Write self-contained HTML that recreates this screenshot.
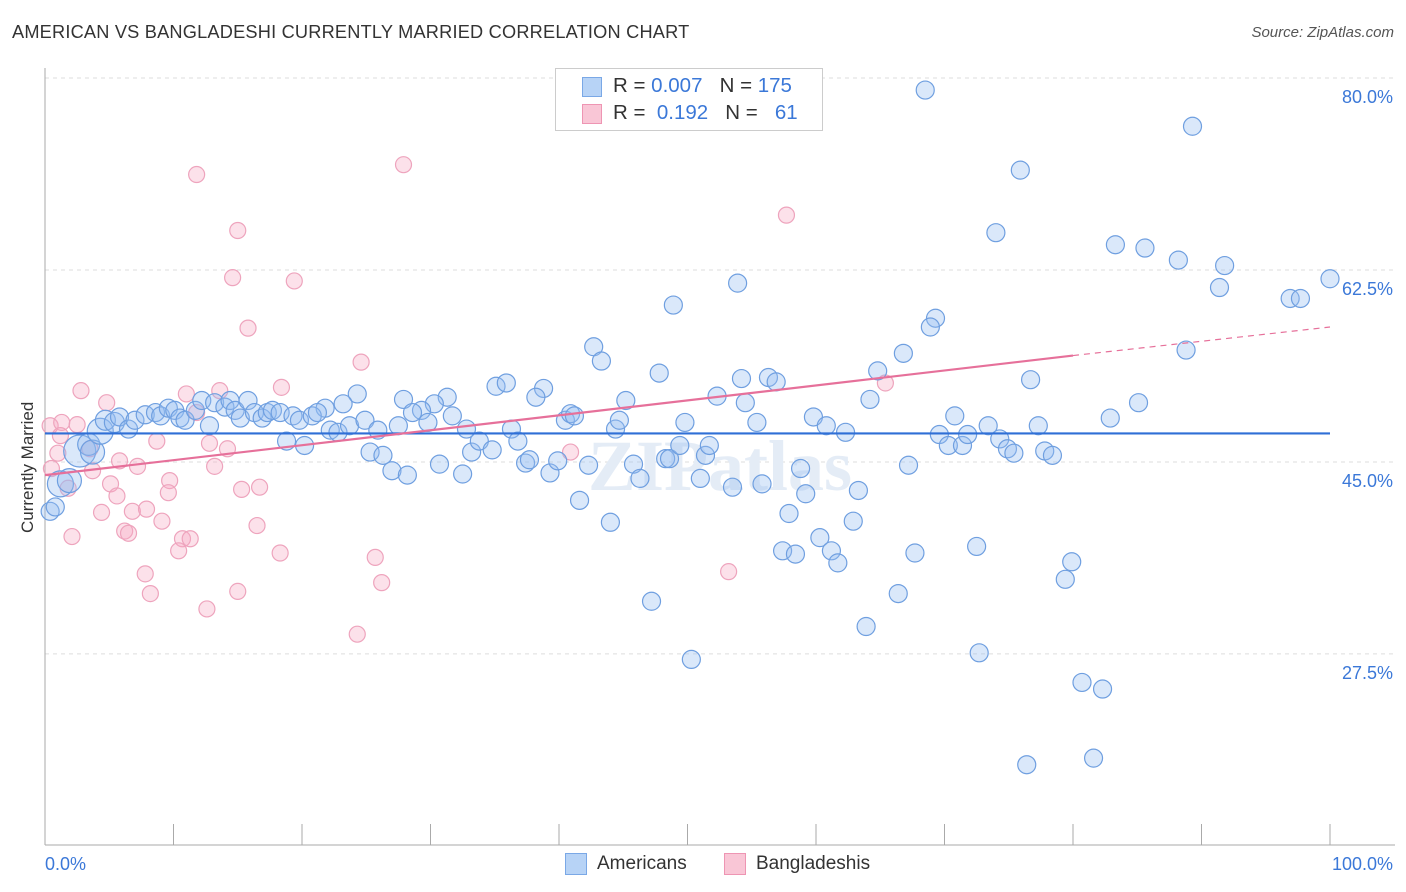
<!DOCTYPE html>
<html><head><meta charset="utf-8"><style>
body{margin:0;background:#fff;font-family:"Liberation Sans",sans-serif;}
#wrap{position:relative;width:1406px;height:892px;overflow:hidden;}
.t{position:absolute;white-space:nowrap;}
</style></head><body>
<div id="wrap">
<div class="t" style="left:12px;top:22px;font-size:18.2px;color:#333;letter-spacing:0.2px">AMERICAN VS BANGLADESHI CURRENTLY MARRIED CORRELATION CHART</div>
<div class="t" style="right:12px;top:24px;font-size:15px;color:#555;font-style:italic">Source: ZipAtlas.com</div>
<div class="t" style="left:18px;top:533px;font-size:17px;color:#333;transform:rotate(-90deg);transform-origin:0 0;">Currently Married</div>
<svg id="svg" width="1406" height="892" style="position:absolute;left:0;top:0"></svg>
<div class="t" style="left:555px;top:68px;width:266px;height:61px;border:1px solid #ccc;background:#fff">
 <div style="position:absolute;left:26px;top:8px;width:18px;height:18px;background:#b7d3f6;border:1px solid #7aa8e6"></div>
 <div style="position:absolute;left:26px;top:35px;width:18px;height:18px;background:#f9c6d6;border:1px solid #ee95b3"></div>
 <div class="t" style="left:57px;top:5px;font-size:20.5px;color:#333">R = <span style="color:#3b78d8">0.007</span>&nbsp;&nbsp;&nbsp;N = <span style="color:#3b78d8">175</span></div>
 <div class="t" style="left:57px;top:32px;font-size:20.5px;color:#333">R = &nbsp;<span style="color:#3b78d8">0.192</span>&nbsp;&nbsp;&nbsp;N = &nbsp;&nbsp;<span style="color:#3b78d8">61</span></div>
</div>
<div class="t" style="left:565px;top:853px;width:20px;height:20px;background:#b7d3f6;border:1px solid #7aa8e6"></div>
<div class="t" style="left:597px;top:853px;font-size:19px;color:#333">Americans</div>
<div class="t" style="left:724px;top:853px;width:20px;height:20px;background:#f9c6d6;border:1px solid #ee95b3"></div>
<div class="t" style="left:756px;top:853px;font-size:19px;color:#333">Bangladeshis</div>
</div>
<script>
const yTicks=[80,62.5,45,27.5];
const yTickLabels=["80.0%","62.5%","45.0%","27.5%"];
const xLabels=["0.0%","100.0%"];
const blueX=[68.5,89.3,75.9,74.0,83.3,85.6,88.2,91.8,91.4,100,96.9,97.7,53.9,48.9,69.3,68.9,42.7,43.3,66.8,88.8,47.8,64.8,76.7,54.2,56.3,56.9,35.1,35.9,38.8,38.2,24.3,27.9,31.3,52.3,64.2,54.5,85.1,23.2,21.8,30.3,29.3,28.6,45.2,
0.4,0.8,1.2,1.9,2.7,3.4,3.7,4.3,4.7,5.4,5.8,6.5,7.0,7.8,8.6,9.0,9.6,10.1,10.5,10.9,11.7,12.2,12.8,13.2,14.0,14.4,14.8,15.2,15.8,16.3,16.9,17.3,17.7,18.3,18.8,19.3,19.8,20.2,20.8,21.2,22.2,22.8,23.7,24.9,25.3,25.9,26.3,27.0,27.5,28.2,29.8,30.7,31.7,32.5,32.8,33.2,33.8,34.8,36.3,36.8,37.4,37.7,39.3,39.9,40.5,40.9,41.2,41.6,42.3,44.0,44.4,44.7,45.8,46.3,47.2,48.3,48.6,49.4,49.8,50.3,51.0,51.4,51.7,53.5,55.4,55.8,57.4,57.9,58.4,58.8,59.2,59.8,60.3,60.8,61.2,61.7,62.3,62.9,63.3,63.9,66.4,67.2,67.7,69.6,70.3,70.8,71.4,71.8,72.5,72.7,73.4,74.3,74.9,75.4,76.4,77.3,77.8,78.4,79.4,79.9,80.7,81.6,82.3,82.9,84.8,86.8,93.8,1.5,3.0];
const blueY=[78.9,75.6,71.6,65.9,64.8,64.5,63.4,62.9,60.9,61.7,59.9,59.9,61.3,59.3,58.1,57.3,55.5,54.2,54.9,55.2,53.1,53.3,52.5,52.6,52.7,52.3,51.9,52.2,51.7,50.9,51.2,50.7,50.9,51.0,50.7,50.4,50.4,50.3,49.9,50.3,49.7,49.5,50.6,
40.5,40.9,43.0,43.3,46.0,46.6,45.9,47.8,48.8,48.6,49.1,48.0,48.8,49.3,49.5,49.2,49.9,49.7,49.0,48.8,49.7,50.6,48.3,50.4,50.0,50.6,49.7,49.0,50.6,49.5,49.0,49.5,49.7,49.5,46.9,49.2,48.8,46.5,49.2,49.5,47.9,47.7,48.3,48.8,45.9,47.9,45.6,44.2,48.3,43.8,48.6,44.8,49.2,43.9,48.0,45.9,46.9,46.1,48.0,46.9,44.9,45.2,44.0,45.1,48.8,49.4,49.2,41.5,44.7,39.5,48.0,48.8,44.8,43.5,32.3,45.3,45.3,46.5,48.6,27.0,43.5,45.6,46.5,42.7,48.6,43.0,36.9,40.3,36.6,44.4,42.1,49.1,38.1,48.3,36.9,35.8,47.7,39.6,42.4,30.0,33.0,44.7,36.7,47.5,46.5,49.2,46.5,47.5,37.3,27.6,48.3,47.1,46.2,45.8,17.4,48.3,46.0,45.6,34.3,35.9,24.9,18.0,24.3,49.0,25.7,36.0,43.7,41.5,46.0];
const blueR=[9,9,9,9,9,9,9,9,9,9,9,9,9,9,9,9,9,9,9,9,9,9,9,9,9,9,9,9,9,9,9,9,9,9,9,9,9,9,9,9,9,9,9,
9,9,13,12,16,11,12,13,10,10,9,9,9,9,9,9,9,9,9,9,9,9,9,9,9,9,9,9,9,9,9,9,9,9,9,9,9,9,9,9,9,9,9,9,9,9,9,9,9,9,9,9,9,9,9,9,9,9,9,9,9,9,9,9,9,9,9,9,9,9,9,9,9,9,9,9,9,9,9,9,9,9,9,9,9,9,9,9,9,9,9,9,9,9,9,9,9,9,9,9,9,9,9,9,9,9,9,9,9,9,9,9,9,9,9,9,9,9,9,9,9,9,9,9];
const pinkX=[11.8,27.9,57.7,15.0,14.6,19.4,15.8,24.6,2.8,11.0,13.6,4.8,18.4,65.4,0.4,1.3,2.5,1.2,11.8,3.5,1.0,8.7,12.8,14.2,0.5,5.8,7.2,3.7,13.2,5.1,5.6,1.8,9.7,9.6,15.3,16.7,4.4,6.8,7.9,2.1,6.2,9.1,16.5,10.7,11.3,10.4,18.3,25.7,7.8,26.2,15.0,8.2,12.6,24.3,53.2,40.9,6.5];
const pinkY=[71.2,72.1,67.5,66.1,61.8,61.5,57.2,54.1,51.5,51.2,51.5,50.4,51.8,52.2,48.3,48.6,48.4,47.4,49.5,46.2,45.8,46.9,46.7,46.2,44.4,45.1,44.6,44.2,44.6,43.0,41.9,42.6,43.3,42.2,42.5,42.7,40.4,40.5,40.7,38.2,38.7,39.6,39.2,38.0,38.0,36.9,36.7,36.3,34.8,34.0,33.2,33.0,31.6,29.3,35.0,45.9,38.5];
const blueTrend=[47.6,47.6];
const pinkTrend=[43.8,54.7,57.3];
const trendX=[0,80,100];

const svg=document.getElementById('svg');
const NS='http://www.w3.org/2000/svg';
const X0=45,X1=1330,Y80=78,PX=10.97;
function xS(v){return X0+(X1-X0)*v/100;}
function yS(v){return Y80+(80-v)*PX;}
function mk(tag,attrs){const e=document.createElementNS(NS,tag);for(const k in attrs)e.setAttribute(k,attrs[k]);svg.appendChild(e);return e;}

yTicks.forEach((t,i)=>{
 const g=mk('line',{x1:45,x2:1395,y1:yS(t),y2:yS(t),stroke:'#ddd','stroke-dasharray':'4,4'});
 
 
 const tx=mk('text',{x:1393,y:yS(t)+25,'text-anchor':'end','font-size':18,fill:'#3b78d8','font-family':'Liberation Sans'});
 tx.textContent=yTickLabels[i];
 
 
});
const ax=mk('line',{x1:45,x2:1395,y1:845,y2:845,stroke:'#aaa'});


const ay=mk('line',{x1:45,x2:45,y1:68,y2:845,stroke:'#aaa'});


for(let i=0;i<=10;i++){
 const tk=mk('line',{x1:xS(i*10),x2:xS(i*10),y1:824,y2:845,stroke:'#aaa'});
 
 
}
const xl0=mk('text',{x:45,y:870,'font-size':18,fill:'#3b78d8','font-family':'Liberation Sans'});
xl0.textContent=xLabels[0];


const xl1=mk('text',{x:1393,y:870,'text-anchor':'end','font-size':18,fill:'#3b78d8','font-family':'Liberation Sans'});
xl1.textContent=xLabels[1];



const wm=mk('text',{x:720,y:490,'text-anchor':'middle','font-size':72,fill:'#e4ecf6','font-family':'Liberation Serif','font-weight':'bold'});
wm.textContent='ZIPatlas';



pinkX.forEach((x,i)=>{
 const c=mk('circle',{cx:xS(x),cy:yS(pinkY[i]),r:8,fill:'rgba(246,170,195,0.35)',stroke:'#eea4bd','stroke-width':1.2});
 
 
});
blueX.forEach((x,i)=>{
 const c=mk('circle',{cx:xS(x),cy:yS(blueY[i]),r:blueR[i],fill:'rgba(150,190,240,0.35)',stroke:'#6f9fe0','stroke-width':1.2});
 
 
});
const bl=mk('line',{x1:xS(trendX[0]),x2:xS(trendX[2]),y1:yS(blueTrend[0]),y2:yS(blueTrend[1]),stroke:'#2f6fd6','stroke-width':2.2});


const pl=mk('line',{x1:xS(trendX[0]),x2:xS(trendX[1]),y1:yS(pinkTrend[0]),y2:yS(pinkTrend[1]),stroke:'#e6709a','stroke-width':2.2});


const pd=mk('line',{x1:xS(trendX[1]),x2:xS(trendX[2]),y1:yS(pinkTrend[1]),y2:yS(pinkTrend[2]),stroke:'#e6709a','stroke-width':1.2,'stroke-dasharray':'6,5'});


</script>
</body></html>
